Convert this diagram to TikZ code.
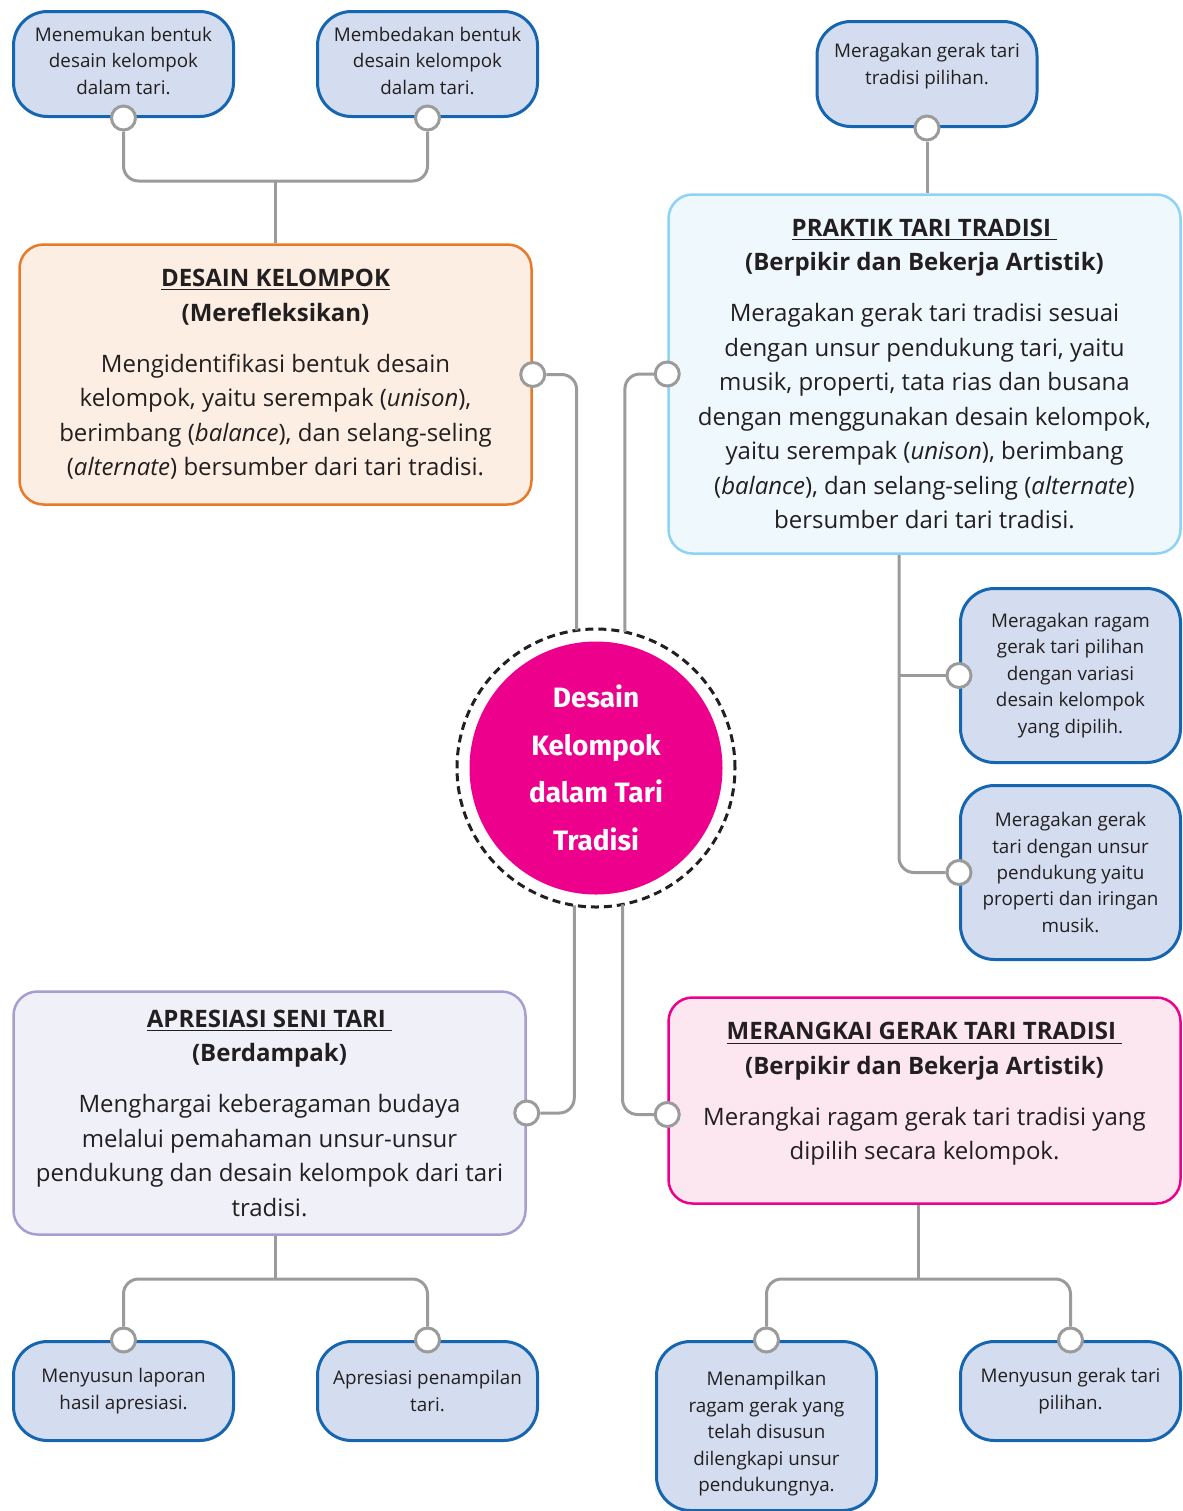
\documentclass[tikz,border=0pt]{standalone}
\usepackage{fontspec}
\setmainfont{Open Sans}
\newfontfamily\hubfont{Fira Sans}
\definecolor{ink}{HTML}{231F20}
\definecolor{leafline}{HTML}{1565B0}
\definecolor{leaffill}{HTML}{D4DDEF}
\definecolor{linegray}{HTML}{9B9B9B}
\definecolor{hubpink}{HTML}{EC008C}
\definecolor{desainline}{HTML}{E8792A}
\definecolor{desainfill}{HTML}{FCEEE2}
\definecolor{praktikline}{HTML}{8DD3F3}
\definecolor{praktikfill}{HTML}{EFF8FD}
\definecolor{apresiasiline}{HTML}{A89CD0}
\definecolor{apresiasifill}{HTML}{F0F1F8}
\definecolor{merangkailine}{HTML}{EC008C}
\definecolor{merangkaifill}{HTML}{FCE7F1}
\begin{document}
\begin{tikzpicture}[x=0.5pt,y=-0.5pt,
  leaf/.style={draw=leafline,fill=leaffill,line width=1.5pt,rounded corners=17pt,minimum width=110pt,align=center,text=ink,inner sep=0pt,font=\fontsize{9.4}{13.2}\selectfont},
  topic/.style={line width=1.25pt,rounded corners=12pt,minimum width=256pt,align=center,text=ink,inner sep=0pt,font=\fontsize{12}{17.25}\selectfont},
  port/.style={circle,draw=linegray,fill=white,line width=1.5pt,minimum size=12pt,inner sep=0pt},
  conn/.style={draw=linegray,line width=1.5pt,rounded corners=7.5pt}]
\useasboundingbox (0,0) rectangle (1183,1511);

\node[leaf,minimum height=52.5pt] (A1) at (123.5,64) {Menemukan bentuk\\desain kelompok\\dalam tari.\\[-10pt]\mbox{}};
\node[leaf,minimum height=52.5pt] (A2) at (427.5,64) {Membedakan bentuk\\desain kelompok\\dalam tari.\\[-10pt]\mbox{}};
\node[leaf,minimum height=52.5pt] (T) at (927,74) {Meragakan gerak tari\\tradisi pilihan.\\[-3pt]\mbox{}};
\node[leaf,minimum height=87pt] (R1) at (1070.5,675.5) {Meragakan ragam\\gerak tari pilihan\\dengan variasi\\desain kelompok\\yang dipilih.};
\node[leaf,minimum height=87pt] (R2) at (1070.5,872.5) {Meragakan gerak\\tari dengan unsur\\pendukung yaitu\\properti dan iringan\\musik.};
\node[leaf,minimum height=49.5pt] (B1) at (123.5,1391) {Menyusun laporan\\hasil apresiasi.};
\node[leaf,minimum height=49.5pt] (B2) at (427.5,1391) {Apresiasi penampilan\\tari.};
\node[leaf,minimum height=84.5pt] (M1) at (766.5,1426) {\rule{0pt}{15pt}Menampilkan\\ragam gerak yang\\telah disusun\\dilengkapi unsur\\pendukungnya.};
\node[leaf,minimum height=49.5pt] (M2) at (1070.5,1391) {Menyusun gerak tari\\pilihan.};

\node[topic,draw=desainline,fill=desainfill,minimum height=130pt] (desain) at (275.5,374.5)
  {\textbf{\underline{DESAIN KELOMPOK}}\\\textbf{(Merefleksikan)}\\[8.25pt]
   Mengidentifikasi bentuk desain\\kelompok, yaitu serempak (\textit{unison}),\\berimbang (\textit{balance}), dan selang-seling\\(\textit{alternate}) bersumber dari tari tradisi.};
\node[topic,draw=praktikline,fill=praktikfill,minimum height=179.5pt] (praktik) at (924.5,374)
  {\textbf{\underline{PRAKTIK TARI TRADISI\ }}\\\textbf{(Berpikir dan Bekerja Artistik)}\\[8.25pt]
   Meragakan gerak tari tradisi sesuai\\dengan unsur pendukung tari, yaitu\\musik, properti, tata rias dan busana\\dengan menggunakan desain kelompok,\\yaitu serempak (\textit{unison}), berimbang\\(\textit{balance}), dan selang-seling (\textit{alternate})\\bersumber dari tari tradisi.};
\node[topic,draw=apresiasiline,fill=apresiasifill,minimum height=121.5pt] (apresiasi) at (269.5,1113)
  {\textbf{\underline{APRESIASI SENI TARI\ }}\\\textbf{(Berdampak)}\\[8.25pt]
   Menghargai keberagaman budaya\\melalui pemahaman unsur-unsur\\pendukung dan desain kelompok dari tari\\tradisi.};
\node[topic,draw=merangkailine,fill=merangkaifill,minimum height=103pt] (merangkai) at (924.5,1100.5)
  {\textbf{\underline{MERANGKAI GERAK TARI TRADISI\ }}\\\textbf{(Berpikir dan Bekerja Artistik)}\\[8.25pt]
   Merangkai ragam gerak tari tradisi yang\\dipilih secara kelompok.\\[-8pt]\mbox{}};

\node[circle,fill=hubpink,minimum size=126.5pt,inner sep=0pt,align=center,text=white,
  font={\hubfont\fontsize{14}{23.8}\bfseries\selectfont}] (hub) at (596,768) {Desain\\Kelompok\\dalam Tari\\Tradisi};
\node[circle,draw=ink,line width=1.5pt,dash pattern=on 4pt off 2.5pt,minimum size=139pt,inner sep=0pt,outer sep=0pt] (ring) at (596,768) {};

\node[port] (pA1) at (A1.south) {};
\node[port] (pA2) at (A2.south) {};
\node[port] (pT) at (T.south) {};
\node[port] (pD) at (desain.east) {};
\node[port] (pP) at (praktik.west) {};
\node[port] (pR1) at (R1.west) {};
\node[port] (pR2) at (R2.west) {};
\node[port] (pS) at (apresiasi.east) {};
\node[port] (pM) at ([yshift=-7pt]merangkai.west) {};
\node[port] (pB1) at (B1.north) {};
\node[port] (pB2) at (B2.north) {};
\node[port] (pM1) at (M1.north) {};
\node[port] (pM2) at (M2.north) {};

\coordinate (jA) at (275,181);
\coordinate (jR) at (899,555);
\coordinate (jS) at (275,1279);
\coordinate (jM) at (918,1279);

\draw[conn] (pA1.south) |- (jA) -| (pA2.south);
\draw[conn] (jA) -- (jA |- desain.north);
\draw[conn] (pT.south) -- (pT.south |- praktik.north);
\draw[conn] (pD.east) -| (ring.98.3);
\draw[conn] (pP.west) -| (ring.78.8);
\draw[conn] (ring.261.7) |- (pS.east);
\draw[conn] (ring.281.2) |- (pM.west);
\draw[conn] (jR) |- (pR2.west);
\draw[conn] (jR |- pR1.west) -- (pR1.west);
\draw[conn] (jS |- apresiasi.south) -- (jS);
\draw[conn] (pB1.north) |- (jS) -| (pB2.north);
\draw[conn] (jM |- merangkai.south) -- (jM);
\draw[conn] (pM1.north) |- (jM) -| (pM2.north);
\end{tikzpicture}
\end{document}
